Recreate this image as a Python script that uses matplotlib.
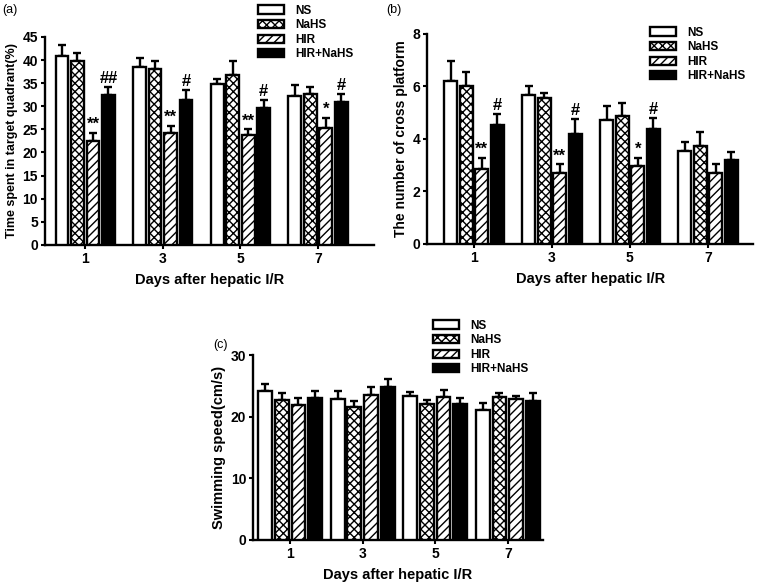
import numpy as np
import matplotlib
matplotlib.use("Agg")
import matplotlib.pyplot as plt

plt.rcParams['font.family'] = ['Liberation Sans', 'DejaVu Sans']
plt.rcParams['hatch.linewidth'] = 1.0

days = ["1", "3", "5", "7"]
groups = ["NS", "NaHS", "HIR", "HIR+NaHS"]

# (a) time spent in target quadrant (%)
time_mean = {
    "NS": [40.8, 38.6, 34.8, 32.3],
    "NaHS": [39.7, 38.0, 36.8, 32.7],
    "HIR": [22.4, 24.2, 23.7, 25.2],
    "HIR+NaHS": [32.4, 31.4, 29.7, 30.9],
}
time_err = {
    "NS": [2.5, 1.8, 1.2, 2.2],
    "NaHS": [1.8, 1.7, 3.0, 1.5],
    "HIR": [1.8, 1.6, 1.3, 2.2],
    "HIR+NaHS": [1.7, 2.1, 1.7, 1.7],
}
time_marks = {"HIR": ["**", "**", "**", "*"], "HIR+NaHS": ["##", "#", "#", "#"]}

# (b) number of platform crossings
cross_mean = {
    "NS": [6.2, 5.69, 4.71, 3.53],
    "NaHS": [6.03, 5.55, 4.88, 3.71],
    "HIR": [2.87, 2.68, 2.98, 2.68],
    "HIR+NaHS": [4.52, 4.19, 4.36, 3.19],
}
cross_err = {
    "NS": [0.78, 0.34, 0.53, 0.34],
    "NaHS": [0.51, 0.2, 0.47, 0.54],
    "HIR": [0.42, 0.35, 0.3, 0.37],
    "HIR+NaHS": [0.43, 0.55, 0.44, 0.3],
}
cross_marks = {"HIR": ["**", "**", "*", ""], "HIR+NaHS": ["#", "#", "#", ""]}

# (c) swimming speed (cm/s)
speed_mean = {
    "NS": [24.2, 22.9, 23.4, 21.1],
    "NaHS": [22.7, 21.5, 22.0, 23.2],
    "HIR": [21.9, 23.6, 23.2, 22.9],
    "HIR+NaHS": [23.1, 24.8, 22.0, 22.5],
}
speed_err = {
    "NS": [1.1, 1.2, 0.6, 1.2],
    "NaHS": [1.2, 1.0, 0.7, 0.6],
    "HIR": [1.2, 1.2, 1.1, 0.5],
    "HIR+NaHS": [1.0, 1.4, 1.0, 1.4],
}

faces = {"NS": "white", "NaHS": "white", "HIR": "white", "HIR+NaHS": "black"}
hatches = {"NS": "", "NaHS": "xxxx", "HIR": "////", "HIR+NaHS": ""}


def draw_panel(ax, means, errs, marks, step, width, ylim, yticks, ylabel, ylsize, xlim):
    x = np.arange(len(days))
    offsets = (np.arange(len(groups)) - 1.5) * step
    for k, g in enumerate(groups):
        m = np.array(means[g])
        e = np.array(errs[g])
        ax.bar(x + offsets[k], m, width, color=faces[g], edgecolor="black",
               linewidth=1.7, hatch=hatches[g], label=g, zorder=3)
        ax.errorbar(x + offsets[k], m, yerr=[np.zeros_like(e), e], fmt="none",
                    ecolor="black", elinewidth=1.7, capsize=3, capthick=1.7, zorder=2)
        if g in marks:
            for i, t in enumerate(marks[g]):
                if t:
                    ax.text(x[i] + offsets[k], m[i] + e[i] + (ylim[1] * 0.005), t,
                            ha="center", va="bottom", fontsize=12, fontweight="bold")
    ax.set_xlim(*xlim)
    ax.set_ylim(*ylim)
    ax.set_yticks(yticks)
    ax.set_xticks(x)
    ax.set_xticklabels(days)
    for s in ["top", "right"]:
        ax.spines[s].set_visible(False)
    for s in ["left", "bottom"]:
        ax.spines[s].set_linewidth(1.7)
    ax.tick_params(width=1.5, length=3, pad=2, labelsize=10)
    for lab in ax.get_xticklabels() + ax.get_yticklabels():
        lab.set_fontweight("bold")
    ax.set_ylabel(ylabel, fontsize=ylsize, fontweight="bold", labelpad=3)
    ax.set_xlabel("Days after hepatic I/R", fontsize=10.5, fontweight="bold", labelpad=5)


fig = plt.figure(figsize=(7.6, 5.86), dpi=100)

ax_a = fig.add_axes([0.059, 0.582, 0.433, 0.355])
draw_panel(ax_a, time_mean, time_err, time_marks, 0.2, 0.165, (0, 45),
           np.arange(0, 46, 5), "Time spent in target quadrant(%)", 9, (-0.52, 3.72))

ax_b = fig.add_axes([0.562, 0.584, 0.429, 0.358])
draw_panel(ax_b, cross_mean, cross_err, cross_marks, 0.2, 0.165, (0, 8),
           np.arange(0, 9, 2), "The number of cross platform", 10, (-0.6, 3.58))

ax_c = fig.add_axes([0.333, 0.0785, 0.381, 0.3155])
draw_panel(ax_c, speed_mean, speed_err, {}, 0.23, 0.19, (0, 30),
           np.arange(0, 31, 10), "Swimming speed(cm/s)", 10.5, (-0.51, 3.48))

leg_kw = dict(loc="upper left", frameon=False, handlelength=2.2,
              handleheight=0.7, handletextpad=1.0, labelspacing=0.22,
              prop={"weight": "bold", "size": 8.5})
ax_a.legend(bbox_to_anchor=(247 / 760, 1 + 6 / 586), bbox_transform=fig.transFigure, **leg_kw)
ax_b.legend(bbox_to_anchor=(639 / 760, 1 - 16 / 586), bbox_transform=fig.transFigure, **leg_kw)
ax_c.legend(bbox_to_anchor=(422 / 760, 1 - 309 / 586), bbox_transform=fig.transFigure, **leg_kw)

fig.text(2 / 760, 1 - 10 / 586, "(a)", fontsize=9, va="center")
fig.text(386 / 760, 1 - 10 / 586, "(b)", fontsize=9, va="center")
fig.text(213 / 760, 1 - 345 / 586, "(c)", fontsize=9, va="center")

fig.savefig("out.png", dpi=100)
